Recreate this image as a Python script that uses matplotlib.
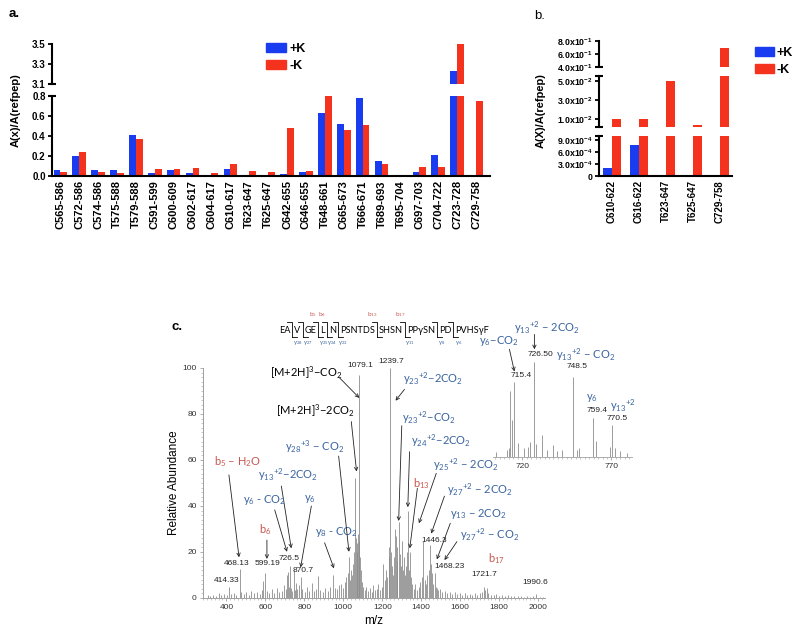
import numpy as np
import matplotlib
matplotlib.use('Agg')
import matplotlib.pyplot as plt
from matplotlib.lines import Line2D
from matplotlib.patches import Patch
from matplotlib.ticker import MultipleLocator, FixedLocator

plt.rcParams['font.family'] = ['Liberation Sans', 'DejaVu Sans']
plt.rcParams['mathtext.default'] = 'regular'

W, H = 800, 633
BLUE, RED = '#1a3cf0', '#f5321e'
ION_BLUE, ION_RED = '#3a64a0', '#c8564f'
GREY = '#8c8c8c'
ANN_FONT = ['Lato', 'DejaVu Sans']

# ---------------- data ----------------
peptides_a = ['C565-586', 'C572-586', 'C574-586', 'T575-588', 'T579-588', 'C591-599',
              'C600-609', 'C602-617', 'C604-617', 'C610-617', 'T623-647', 'T625-647',
              'C642-655', 'C646-655', 'T648-661', 'C665-673', 'T666-671', 'T689-693',
              'T695-704', 'C697-703', 'C704-722', 'C723-728', 'C729-758']
plusK_a = [0.06, 0.205, 0.06, 0.065, 0.41, 0.03, 0.06, 0.035, 0.01, 0.075, 0.0, 0.0,
           0.02, 0.04, 0.63, 0.52, 0.78, 0.15, 0.015, 0.04, 0.21, 3.23, 0.0]
minusK_a = [0.045, 0.24, 0.045, 0.035, 0.37, 0.075, 0.07, 0.08, 0.035, 0.12, 0.055, 0.045,
            0.48, 0.055, 0.80, 0.46, 0.51, 0.125, 0.015, 0.095, 0.09, 3.5, 0.75]

peptides_b = ['C610-622', 'C616-622', 'T623-647', 'T625-647', 'C729-758']
plusK_b = [2.0e-4, 7.8e-4, 0.0, 0.0, 0.0]
minusK_b = [1.0e-2, 1.0e-2, 5.0e-2, 3.5e-3, 7.0e-1]

spec_mz = [305, 318, 332, 347, 360, 372, 388, 401, 414.33, 425, 437, 450, 468.13, 476, 489,
           503, 515, 528, 541, 556, 570, 583, 590, 599.19, 608, 620, 633, 646, 659, 672, 685,
           697, 706, 713.3, 715.4, 719, 726.5, 730.9, 737, 748.5, 752, 759.4, 764, 770.5,
           781, 790, 801, 812, 824, 838, 850, 862, 870.7, 882, 895, 908, 921, 933, 945, 955,
           966, 978, 990, 1000, 1008, 1015, 1022, 1029, 1035, 1041, 1047, 1052, 1056, 1060,
           1064, 1068, 1072, 1075, 1079.1, 1083, 1087, 1091, 1096, 1102, 1110, 1118, 1127,
           1136, 1145, 1153, 1162, 1171, 1180, 1189, 1197, 1205, 1212, 1220, 1226, 1232,
           1236, 1239.7, 1244, 1249, 1254, 1259, 1264, 1268, 1273, 1278, 1284, 1289, 1294,
           1299, 1304, 1310, 1316, 1321, 1326, 1331, 1336, 1341, 1347, 1353, 1361, 1370,
           1379, 1388, 1396, 1404, 1411, 1418, 1425, 1432, 1439, 1446.3, 1451, 1456, 1461,
           1468.23, 1474, 1480, 1488, 1496, 1508, 1520, 1533, 1546, 1558, 1571, 1584, 1597,
           1610, 1623, 1636, 1649, 1662, 1675, 1688, 1700, 1710, 1721.7, 1728, 1735, 1745,
           1758, 1771, 1785, 1800, 1815, 1830, 1846, 1862, 1878, 1894, 1910, 1926, 1942,
           1958, 1974, 1990.6, 2010, 2025]
spec_int = [1.2, 0.8, 1.5, 1.0, 2.0, 1.3, 1.8, 1.1, 5.0, 1.6, 2.2, 1.4, 12.5, 2.5, 1.8,
            2.6, 1.5, 3.0, 2.0, 2.8, 1.6, 3.5, 7.5, 11.0, 3.0, 2.2, 3.8, 2.0, 4.5, 2.6, 3.2,
            5.5, 4.0, 10.0, 11.5, 5.0, 14.0, 4.5, 3.0, 12.0, 3.5, 6.5, 4.0, 5.5,
            9.0, 4.0, 2.5, 5.0, 3.0, 6.5, 3.0, 4.0, 9.5, 3.5, 2.6, 4.5, 3.2, 5.0, 10.0, 4.5,
            3.8, 5.5, 6.0, 4.5, 7.0, 9.0, 11.0, 18.0, 8.0, 12.0, 10.0, 15.0, 20.0, 52.0,
            26.0, 24.0, 20.0, 28.0, 97.0, 25.0, 18.0, 12.0, 7.0, 5.0, 3.5, 5.0, 3.0,
            4.2, 2.8, 5.5, 3.6, 4.0, 6.0, 3.5, 5.0, 15.0, 8.0, 12.0, 9.0, 18.0,
            22.0, 100.0, 20.0, 14.0, 10.0, 18.0, 30.0, 27.0, 16.0, 22.0, 33.0, 19.0, 14.0,
            25.0, 12.0, 18.0, 10.0, 14.0, 20.0, 38.0, 12.0, 20.0, 9.0, 6.0, 4.0, 6.0,
            3.5, 5.0, 7.0, 9.0, 25.0, 8.0, 6.0, 10.0, 12.0, 23.0, 15.0, 11.0, 6.0,
            11.0, 5.0, 4.5, 3.5, 4.0, 2.5, 3.0, 2.0, 2.8, 1.8, 2.5, 1.6, 2.2,
            1.5, 2.0, 1.4, 1.8, 1.3, 2.0, 1.5, 2.2, 2.5, 5.0, 3.5, 4.5, 2.0,
            1.5, 1.2, 1.6, 1.0, 1.3, 0.9, 1.2, 0.8, 1.0, 0.7, 0.9, 0.6, 0.8,
            0.6, 0.7, 1.8, 0.5, 0.6]

inset_mz = [705.1, 711.6, 712.8, 713.3, 714.4, 715.4, 717.8, 721.2, 723.1, 724.4, 726.5,
            727.7, 730.9, 733.7, 737.4, 739.3, 742.1, 748.5, 750.5, 752.0, 759.4, 761.4,
            769.2, 770.5, 772.0, 774.8, 778.6]
inset_int = [5, 7.5, 9, 70, 39, 79, 15, 9, 11, 16, 100, 14, 23, 7.5, 12.5, 6, 7.5, 84, 7.5,
             9, 41, 17, 11, 34, 9, 6, 4]

peak_labels = [(414.33, '414.33'), (468.13, '468.13'), (599.19, '599.19'), (726.5, '726.5'),
               (870.7, '870.7'), (1079.1, '1079.1'), (1239.7, '1239.7'), (1446.3, '1446.3'),
               (1468.23, '1468.23'), (1721.7, '1721.7'), (1990.6, '1990.6')]
inset_labels = [(715.4, '715.4'), (726.5, '726.50'), (748.5, '748.5'), (759.4, '759.4'),
                (770.5, '770.5')]

seq_segments = ['EA', 'V', 'GE', 'L', 'N', 'PSNTDS', 'SHSN', 'PPγSN', 'PD', 'PVHSγF']
b_ions = {2: 'b$_5$', 3: 'b$_6$', 5: 'b$_{13}$', 6: 'b$_{17}$'}
y_ions = {0: 'y$_{28}$', 1: 'y$_{27}$', 2: 'y$_{25}$', 3: 'y$_{24}$', 4: 'y$_{23}$',
          6: 'y$_{11}$', 7: 'y$_8$', 8: 'y$_6$'}


def fx(px):
    return px / W


def fy(py):
    return 1 - py / H


def box(left, top, right, bottom):
    return [fx(left), fy(bottom), (right - left) / W, (bottom - top) / H]


def break_mark(ax, y, half):
    ax.plot([-half, half], [y, y], transform=ax.transAxes, color='k', lw=1.5,
            clip_on=False, solid_capstyle='butt')


def bar_axis(ax, n, plus, minus, width, ysize=7):
    x = np.arange(n)
    ax.bar(x - width / 2, plus, width, color=BLUE)
    ax.bar(x + width / 2, minus, width, color=RED)
    ax.spines[['top', 'right']].set_visible(False)
    for s in ('left', 'bottom'):
        ax.spines[s].set_linewidth(1.5)
    ax.tick_params(axis='y', length=3, width=1.3, labelsize=ysize, pad=1.5)
    return x


fig = plt.figure(figsize=(8, 6.33), dpi=100)

# ---------------- panel a ----------------
ax_lo = fig.add_axes(box(52, 96, 490, 176))
ax_hi = fig.add_axes(box(52, 44, 490, 84))
for ax in (ax_lo, ax_hi):
    xa = bar_axis(ax, len(peptides_a), plusK_a, minusK_a, 0.36)
    ax.set_xlim(-0.44, len(peptides_a) - 1 + 0.74)
ax_lo.set_ylim(0, 0.8)
ax_lo.set_yticks([0, 0.2, 0.4, 0.6, 0.8], ['0.0', '0.2', '0.4', '0.6', '0.8'], fontweight='bold')
ax_lo.set_xticks(xa, peptides_a, rotation=90, fontweight='bold', fontsize=8)
ax_lo.tick_params(axis='x', length=0, pad=3)
ax_hi.set_ylim(3.1, 3.5)
ax_hi.set_yticks([3.1, 3.3, 3.5], ['3.1', '3.3', '3.5'], fontweight='bold')
ax_hi.spines['bottom'].set_visible(False)
ax_hi.tick_params(axis='x', bottom=False, labelbottom=False)
break_mark(ax_lo, 1, 0.009)
break_mark(ax_hi, 0, 0.009)
fig.text(fx(16), fy(110), 'A(x)/A(refpep)', rotation=90, ha='center', va='center',
         fontweight='bold', fontsize=8)
fig.text(fx(9), fy(14), 'a.', fontweight='bold', fontsize=9.5, va='center')
handles = [Patch(color=BLUE), Patch(color=RED)]
fig.legend(handles, ['+K', '-K'], loc='upper left', bbox_to_anchor=(fx(266), fy(43)),
           frameon=False, prop=dict(weight='bold', size=9), handlelength=1.6,
           handleheight=0.7, handletextpad=0.25, labelspacing=0.4, borderpad=0,
           borderaxespad=0)

# ---------------- panel b ----------------
ax_b0 = fig.add_axes(box(599, 136, 732, 176))
ax_b1 = fig.add_axes(box(599, 76, 732, 127))
ax_b2 = fig.add_axes(box(599, 41.3, 732, 66.7))
for ax in (ax_b0, ax_b1, ax_b2):
    xb = bar_axis(ax, len(peptides_b), plusK_b, minusK_b, 0.33, ysize=6.3)
    ax.set_xlim(-0.47, len(peptides_b) - 1 + 0.44)
ax_b0.set_ylim(0, 1.0e-3)
ax_b0.set_yticks([0, 3e-4, 6e-4, 9e-4],
                 ['0', '3.0x10$^{-4}$', '6.0x10$^{-4}$', '9.0x10$^{-4}$'], fontweight='bold')
ax_b0.set_xticks(xb, peptides_b, rotation=90, fontweight='bold', fontsize=7)
ax_b0.tick_params(axis='x', length=0, pad=3)
ax_b1.set_ylim(0.0012, 0.0555)
ax_b1.set_yticks([0.01, 0.03, 0.05], ['1.0x10$^{-2}$', '3.0x10$^{-2}$', '5.0x10$^{-2}$'],
                 fontweight='bold')
ax_b2.set_ylim(0.4, 0.8)
ax_b2.set_yticks([0.4, 0.6, 0.8], ['4.0x10$^{-1}$', '6.0x10$^{-1}$', '8.0x10$^{-1}$'],
                 fontweight='bold')
for ax in (ax_b1, ax_b2):
    ax.spines['bottom'].set_visible(False)
    ax.tick_params(axis='x', bottom=False, labelbottom=False)
break_mark(ax_b0, 1, 0.028)
break_mark(ax_b1, 0, 0.028)
break_mark(ax_b1, 1, 0.028)
break_mark(ax_b2, 0, 0.028)
fig.text(fx(541), fy(111), 'A(X)/A(refpep)', rotation=90, ha='center', va='center',
         fontweight='bold', fontsize=8)
fig.text(fx(534), fy(16), 'b.', fontsize=9.5, va='center')
fig.legend(handles, ['+K', '-K'], loc='upper left', bbox_to_anchor=(fx(755), fy(47)),
           frameon=False, prop=dict(weight='bold', size=9), handlelength=1.5,
           handleheight=0.7, handletextpad=0.25, labelspacing=0.4, borderpad=0,
           borderaxespad=0)

# ---------------- panel c ----------------
ax_c = fig.add_axes(box(203, 368, 545, 598))
ax_c.vlines(spec_mz, 0, spec_int, color=GREY, lw=0.6)
ax_c.set_xlim(280, 2035)
ax_c.set_ylim(0, 100)
ax_c.xaxis.set_major_locator(MultipleLocator(200))
ax_c.xaxis.set_minor_locator(MultipleLocator(20))
ax_c.yaxis.set_major_locator(MultipleLocator(20))
ax_c.yaxis.set_minor_locator(MultipleLocator(2))
ax_c.spines[['top', 'right']].set_visible(False)
for s in ('left', 'bottom'):
    ax_c.spines[s].set_color('#a0a0a0')
    ax_c.spines[s].set_linewidth(0.7)
ax_c.tick_params(which='major', labelsize=6, length=2.5, width=0.6, color='#a0a0a0',
                 labelcolor='#333333', pad=2)
ax_c.tick_params(which='minor', length=1.3, width=0.5, color='#b0b0b0')
ax_c.set_xlabel('m/z', fontsize=8.5, labelpad=3)
ax_c.set_ylabel('Relative Abundance', fontsize=8.5, labelpad=2)
fig.text(fx(172), fy(327), 'c.', fontweight='bold', fontsize=9.5, va='center')

label_pos = {414.33: 7.8, 468.13: 14.8, 599.19: 15.1, 726.5: 17, 870.7: 11.9,
             1079.1: 101.3, 1239.7: 102.7, 1446.3: 25.2, 1468.23: 13.6, 1721.7: 10.3,
             1990.6: 6.8}
label_dx = {414.33: -14, 468.13: -17, 599.19: 14, 726.5: -7, 870.7: -78, 1079.1: 8,
            1239.7: 6, 1446.3: 22, 1468.23: 77, 1721.7: 3, 1990.6: -5}
for mz, txt in peak_labels:
    ax_c.text(mz + label_dx[mz], label_pos[mz], txt, fontsize=6, ha='center', va='center',
              color='#222222')

arrow_kw = dict(arrowstyle='->', lw=0.6, color='#222222', shrinkA=0, shrinkB=0,
                mutation_scale=6)
# (text, colour, text position, ha, arrow tail, arrow head) in m/z / intensity units
ion_notes = [
    ('[M+2H]$^{3}$−CO$_2$', 'k', (810, 98), 'center', (981, 95.7), (1082, 87)),
    ('[M+2H]$^{3}$−2CO$_2$', 'k', (856, 81.4), 'center', (1041, 76.7), (1068, 55)),
    ('y$_{23}$$^{+2}$−2CO$_2$', ION_BLUE, (1306, 95.2), 'left', (1314, 90.7), (1268, 85.8)),
    ('y$_{23}$$^{+2}$−CO$_2$', ION_BLUE, (1303, 78.5), 'left', (1300, 74.9), (1284, 33.5)),
    ('y$_{24}$$^{+2}$−2CO$_2$', ION_BLUE, (1349, 68.4), 'left', (1340, 63.6), (1331, 39.5)),
    ('y$_{25}$$^{+2}$ − 2CO$_2$', ION_BLUE, (1459, 57.8), 'left', (1477, 54.2), (1388, 32.5)),
    ('b$_{13}$', ION_RED, (1400, 49.9), 'center', (1380, 47.7), (1341, 21.6)),
    ('y$_{27}$$^{+2}$ − 2CO$_2$', ION_BLUE, (1531, 47.3), 'left', (1519, 44.3), (1451, 28)),
    ('y$_{13}$ − 2CO$_2$', ION_BLUE, (1545, 36.4), 'left', (1549, 32.5), (1480, 16.8)),
    ('y$_{27}$$^{+2}$ − CO$_2$', ION_BLUE, (1600, 27.4), 'left', (1583, 24.5), (1519, 16.5)),
    ('b$_{17}$', ION_RED, (1785, 17.3), 'center', None, None),
    ('b$_5$ − H$_2$O', ION_RED, (335, 59.4), 'left', (413, 53.5), (465, 17.7)),
    ('y$_{13}$$^{+2}$−2CO$_2$', ION_BLUE, (562, 53.5), 'left', (682, 48.7), (733, 21.6)),
    ('y$_6$ - CO$_2$', ION_BLUE, (485, 42.6), 'left', (648, 38.3), (711, 20.1)),
    ('y$_6$', ION_BLUE, (831, 42.9), 'center', (836, 40), (781, 13.3)),
    ('b$_6$', ION_RED, (601, 29.9), 'center', (608, 25.2), (608, 17)),
    ('y$_8$ - CO$_2$', ION_BLUE, (853, 28.8), 'left', (904, 24), (952, 12.9)),
    ('y$_{28}$$^{+3}$ − CO$_2$', ION_BLUE, (699, 65.8), 'left', (976, 61.7), (1029, 20.1)),
]
for txt, col, pos, ha, tail, head in ion_notes:
    ax_c.text(pos[0], pos[1], txt, color=col, fontsize=8, ha=ha, va='center',
              family=ANN_FONT)
    if head is not None:
        ax_c.annotate('', xy=head, xytext=tail, arrowprops=arrow_kw, annotation_clip=False)

# inset zoom 700-780
ax_in = fig.add_axes(box(493, 362, 632, 457))
ax_in.patch.set_alpha(0)
ax_in.vlines(inset_mz, 0, inset_int, color=GREY, lw=0.6)
ax_in.set_xlim(703.6, 781.5)
ax_in.set_ylim(0, 100)
ax_in.spines[['top', 'right', 'left']].set_visible(False)
ax_in.spines['bottom'].set_color('#a0a0a0')
ax_in.spines['bottom'].set_linewidth(0.6)
ax_in.yaxis.set_visible(False)
ax_in.xaxis.set_major_locator(FixedLocator([720, 770]))
ax_in.xaxis.set_minor_locator(MultipleLocator(2.5))
ax_in.tick_params(which='major', labelsize=6, length=2.5, width=0.6, color='#a0a0a0',
                  labelcolor='#333333', pad=2)
ax_in.tick_params(which='minor', length=1.3, width=0.5, color='#b0b0b0')
inset_label_pos = {715.4: (719.2, 85.5), 726.5: (730, 108.4), 748.5: (750.5, 95.7),
                   759.4: (761.8, 48.6), 770.5: (773, 40.2)}
for mz, txt in inset_labels:
    px_, py_ = inset_label_pos[mz]
    ax_in.text(px_, py_, txt, fontsize=6, ha='center', va='center', color='#222222')
inset_notes = [
    ('y$_6$', ION_BLUE, (759.3, 62.5), None, None),
    ('y$_{13}$$^{+2}$', ION_BLUE, (776.5, 54.5), None, None),
    ('y$_6$−CO$_2$', ION_BLUE, (707, 121.7), (712.8, 113.4), (715.6, 90)),
    ('y$_{13}$$^{+2}$ − 2CO$_2$', ION_BLUE, (733.7, 136.2), (726.8, 129), (726.8, 113.4)),
    ('y$_{13}$$^{+2}$ − CO$_2$', ION_BLUE, (755.6, 108.2), None, None),
]
for txt, col, pos, tail, head in inset_notes:
    ax_in.text(pos[0], pos[1], txt, color=col, fontsize=8, ha='center', va='center',
               family=ANN_FONT)
    if head is not None:
        ax_in.annotate('', xy=head, xytext=tail, arrowprops=arrow_kw, annotation_clip=False)

# peptide sequence with fragment brackets
renderer = fig.canvas.get_renderer()
x_px = 279
breaks = []
for i, seg in enumerate(seq_segments):
    t = fig.text(fx(x_px), fy(333), seg, fontsize=6.6, family=ANN_FONT, va='baseline')
    bb = t.get_window_extent(renderer=renderer)
    right = bb.x1
    if i < len(seq_segments) - 1:
        breaks.append(right + 2)
    x_px = right + 4
for i, bx in enumerate(breaks):
    fig.add_artist(Line2D([fx(bx - 5), fx(bx), fx(bx)], [fy(322), fy(322), fy(337)],
                          transform=fig.transFigure, color='k', lw=0.6))
    fig.add_artist(Line2D([fx(bx), fx(bx + 5)], [fy(337), fy(337)],
                          transform=fig.transFigure, color='k', lw=0.6))
    if i in b_ions:
        fig.text(fx(bx - 5), fy(315), b_ions[i], color=ION_RED, fontsize=4.5, ha='center',
                 va='center', family=ANN_FONT)
    if i in y_ions:
        fig.text(fx(bx + 5), fy(343), y_ions[i], color=ION_BLUE, fontsize=4.2, ha='center',
                 va='center', family=ANN_FONT)

fig.savefig('out.png', dpi=100)
